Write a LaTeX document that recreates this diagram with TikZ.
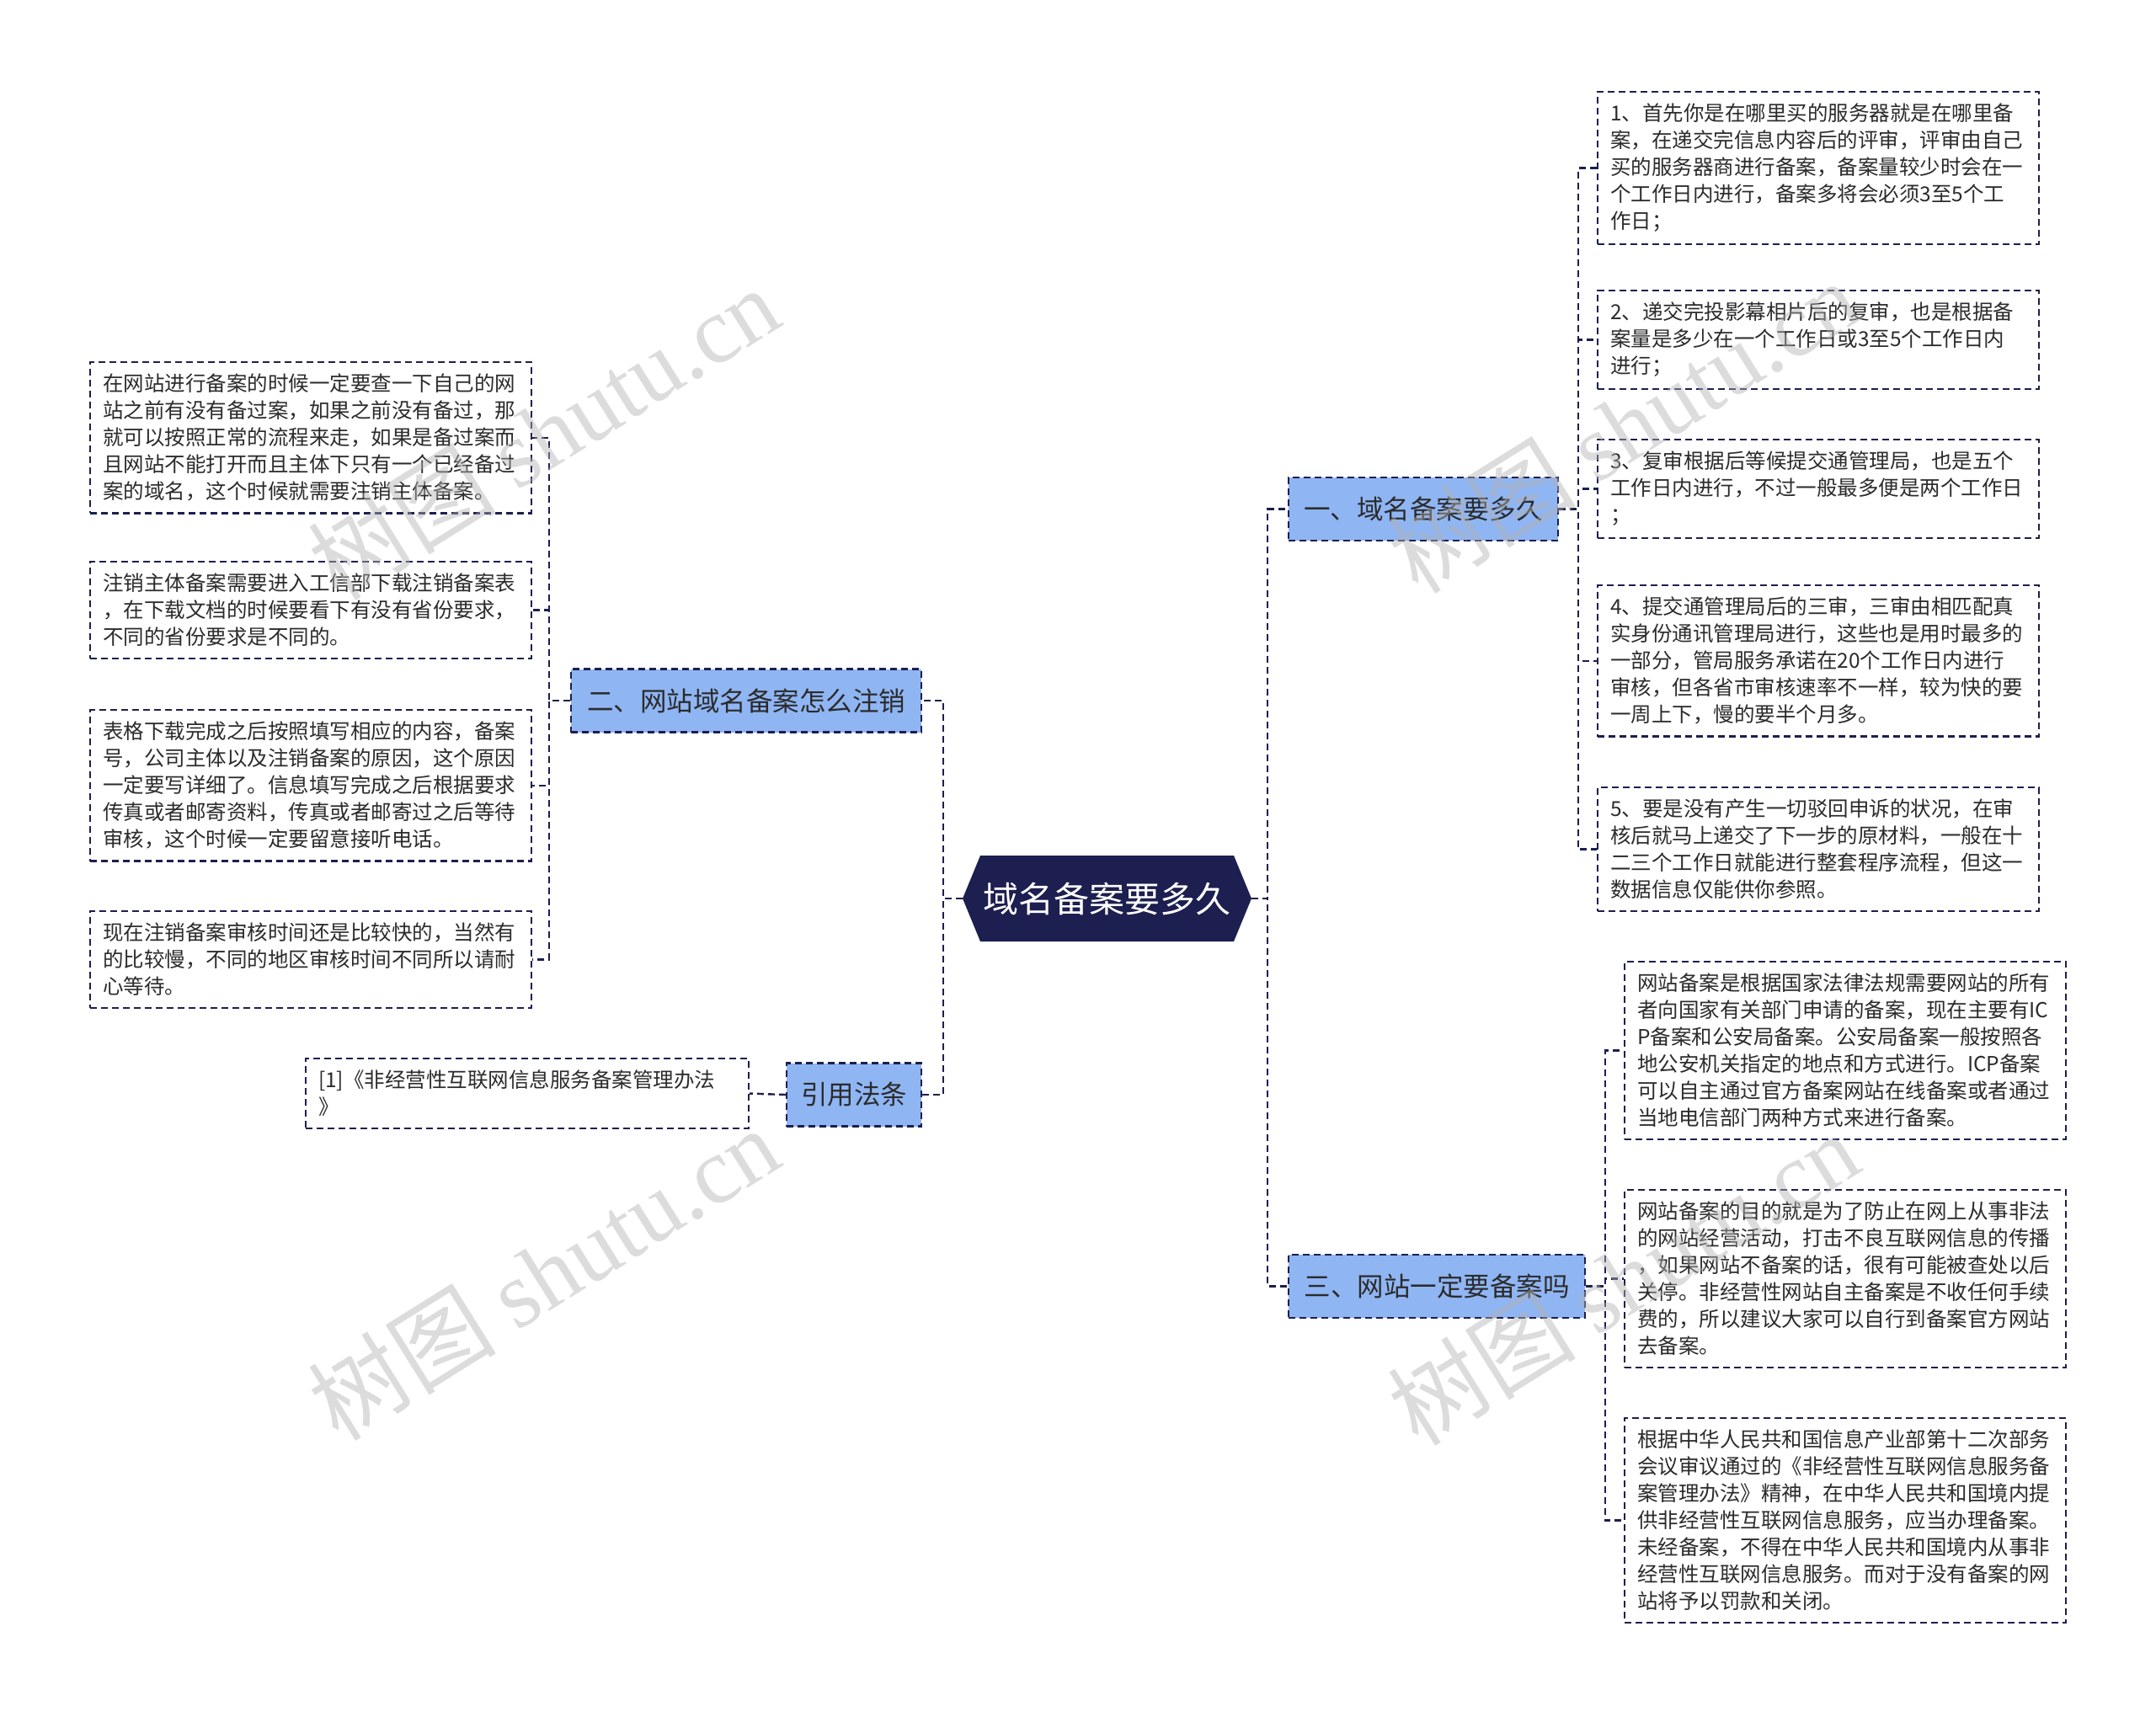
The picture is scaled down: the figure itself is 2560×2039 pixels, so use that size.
\documentclass[tikz,border=0pt]{standalone}
\usepackage{fontspec}
\setmainfont{Noto Sans CJK SC}
\newfontfamily\wmlatin{Liberation Serif}
\usetikzlibrary{calc}
\definecolor{navy}{HTML}{1C1F4F}
\definecolor{bluefill}{HTML}{8FB5F3}
\definecolor{txt}{HTML}{2B2B2B}
\begin{document}
\begin{tikzpicture}[x=1pt,y=-1pt,
  conn/.style={draw=navy, line width=2.4pt, dash pattern=on 8pt off 5pt},
  leaf/.style={draw=navy, line width=2.2pt, dash pattern=on 8pt off 5pt, fill=white,
    text=txt, align=left, text width=494pt, inner xsep=15pt, inner ysep=14pt,
    font=\fontsize{24.5pt}{32pt}\selectfont, anchor=north west},
  branch/.style={draw=navy, line width=2.2pt, dash pattern=on 8pt off 5pt, fill=bluefill,
    text=txt, font=\fontsize{31.5pt}{36pt}\selectfont, minimum height=75pt, inner xsep=0pt},
  hexnode/.style={minimum width=343pt, minimum height=102pt, inner sep=0pt, text=white,
    font=\fontsize{42pt}{46pt}\selectfont,
    path picture={\fill[navy] (path picture bounding box.west)
      -- ([xshift=21pt]path picture bounding box.north west)
      -- ([xshift=-21pt]path picture bounding box.north east)
      -- (path picture bounding box.east)
      -- ([xshift=-21pt]path picture bounding box.south east)
      -- ([xshift=21pt]path picture bounding box.south west) -- cycle;}},
  wm/.style={text=black!30, text opacity=0.45, rotate=32, font=\fontsize{112pt}{120pt}\selectfont}
]
\useasboundingbox[fill=white] (0,0) rectangle (2560,2039);

% central node
\node[hexnode] (c) at (1314.5,1067) {域名备案要多久};

% branches
\node[branch, minimum width=320pt] (b1) at (1690,604.5) {一、域名备案要多久};
\node[branch, minimum width=416pt] (b2) at (886,832) {二、网站域名备案怎么注销};
\node[branch, minimum width=160pt] (bref) at (1014,1300) {引用法条};
\node[branch, minimum width=352pt] (b3) at (1706,1527.5) {三、网站一定要备案吗};

% group 1 leaves
\node[leaf] (r1) at (1896,108) {1、首先你是在哪里买的服务器就是在哪里备\\案，在递交完信息内容后的评审，评审由自己\\买的服务器商进行备案，备案量较少时会在一\\个工作日内进行，备案多将会必须3至5个工\\作日；};
\node[leaf] (r2) at (1896,344) {2、递交完投影幕相片后的复审，也是根据备\\案量是多少在一个工作日或3至5个工作日内\\进行；};
\node[leaf] (r3) at (1896,521) {3、复审根据后等候提交通管理局，也是五个\\工作日内进行，不过一般最多便是两个工作日\\；};
\node[leaf] (r4) at (1896,694) {4、提交通管理局后的三审，三审由相匹配真\\实身份通讯管理局进行，这些也是用时最多的\\一部分，管局服务承诺在20个工作日内进行\\审核，但各省市审核速率不一样，较为快的要\\一周上下，慢的要半个月多。};
\node[leaf] (r5) at (1896,934) {5、要是没有产生一切驳回申诉的状况，在审\\核后就马上递交了下一步的原材料，一般在十\\二三个工作日就能进行整套程序流程，但这一\\数据信息仅能供你参照。};

% group 3 leaves
\node[leaf] (s1) at (1928,1141) {网站备案是根据国家法律法规需要网站的所有\\者向国家有关部门申请的备案，现在主要有IC\\P备案和公安局备案。公安局备案一般按照各\\地公安机关指定的地点和方式进行。ICP备案\\可以自主通过官方备案网站在线备案或者通过\\当地电信部门两种方式来进行备案。};
\node[leaf] (s2) at (1928,1412) {网站备案的目的就是为了防止在网上从事非法\\的网站经营活动，打击不良互联网信息的传播\\，如果网站不备案的话，很有可能被查处以后\\关停。非经营性网站自主备案是不收任何手续\\费的，所以建议大家可以自行到备案官方网站\\去备案。};
\node[leaf] (s3) at (1928,1683) {根据中华人民共和国信息产业部第十二次部务\\会议审议通过的《非经营性互联网信息服务备\\案管理办法》精神，在中华人民共和国境内提\\供非经营性互联网信息服务，应当办理备案。\\未经备案，不得在中华人民共和国境内从事非\\经营性互联网信息服务。而对于没有备案的网\\站将予以罚款和关闭。};

% left leaves
\node[leaf] (l1) at (106,429) {在网站进行备案的时候一定要查一下自己的网\\站之前有没有备过案，如果之前没有备过，那\\就可以按照正常的流程来走，如果是备过案而\\且网站不能打开而且主体下只有一个已经备过\\案的域名，这个时候就需要注销主体备案。};
\node[leaf] (l2) at (106,666) {注销主体备案需要进入工信部下载注销备案表\\，在下载文档的时候要看下有没有省份要求，\\不同的省份要求是不同的。};
\node[leaf] (l3) at (106,842) {表格下载完成之后按照填写相应的内容，备案\\号，公司主体以及注销备案的原因，这个原因\\一定要写详细了。信息填写完成之后根据要求\\传真或者邮寄资料，传真或者邮寄过之后等待\\审核，这个时候一定要留意接听电话。};
\node[leaf] (l4) at (106,1081) {现在注销备案审核时间还是比较快的，当然有\\的比较慢，不同的地区审核时间不同所以请耐\\心等待。};

% reference leaf
\node[leaf, text width=496pt] (ref) at (362,1256) {[1]《非经营性互联网信息服务备案管理办法\\》};

% connectors: center to branches
\draw[conn] (c.east) -- ++(19,0) |- (b1.west);
\draw[conn] (c.east) -- ++(19,0) |- (b3.west);
\draw[conn] (c.west) -- ++(-23,0) |- (b2.east);
\draw[conn] (c.west) -- ++(-23,0) |- (bref.east);

% branch 1 to leaves
\foreach \n in {r1,r2,r3,r4,r5} \draw[conn] (b1.east) -- ++(23,0) |- (\n.west);
% branch 3 to leaves
\foreach \n in {s1,s2,s3} \draw[conn] (b3.east) -- ++(23,0) |- (\n.west);
% branch 2 to leaves
\foreach \n in {l1,l2,l3,l4} \draw[conn] (b2.west) -- ++(-25,0) |- (\n.east);
% reference
\draw[conn] (bref.west) -- (ref.east);

% watermarks
\node[wm] (w1) at (645,514) {树图 {\wmlatin shutu.cn}};
\node[wm] (w2) at (645,1512) {树图 {\wmlatin shutu.cn}};
\node[wm] (w3) at (1927,506) {树图 {\wmlatin shutu.cn}};
\node[wm] (w4) at (1927,1518) {树图 {\wmlatin shutu.cn}};
\end{tikzpicture}
\end{document}
